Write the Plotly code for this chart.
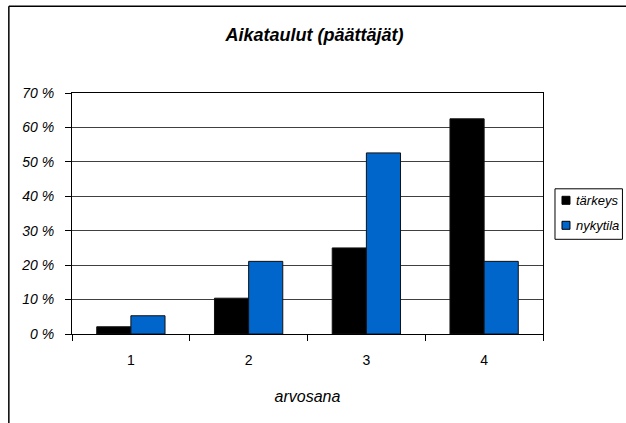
import plotly.graph_objects as go

categories = ["1", "2", "3", "4"]
tarkeys = [2.1, 10.4, 25.0, 62.5]
nykytila = [5.3, 21.1, 52.6, 21.1]
series_names = ["tärkeys", "nykytila"]
series_colors = ["#000000", "#0066CC"]
y_ticks = [0, 10, 20, 30, 40, 50, 60, 70]
y_ticktext = [f"{v} %" for v in y_ticks]

FONT = "Liberation Sans, Arial, sans-serif"

fig = go.Figure()
for name, vals, col in zip(series_names, [tarkeys, nykytila], series_colors):
    fig.add_trace(go.Bar(x=categories, y=vals, name=name, showlegend=False,
                         marker=dict(color=col, line=dict(color="#111111", width=1))))

W, H = 626, 423
L, R, T, B = 71.7, 543, 92.7, 333.7
pw, ph = R - L, B - T

def px(xp):
    return (xp - L) / pw

def py(yp):
    return (B - yp) / ph

fig.update_layout(
    width=W, height=H,
    margin=dict(l=L, r=W - R, t=T, b=H - B, pad=0, autoexpand=False),
    paper_bgcolor="white", plot_bgcolor="white",
    barmode="group", bargap=0.42, bargroupgap=0,
    font=dict(family=FONT, color="black", size=13),
    title=dict(text="<b><i>Aikataulut (päättäjät)</i></b>", x=314.5 / W, xanchor="center",
               y=1 - 35 / H, yanchor="middle", yref="container",
               font=dict(family=FONT, size=18, color="black")),
    showlegend=False,
    xaxis=dict(type="category", tickson="boundaries", ticks="outside", ticklen=6,
               tickcolor="black", showline=True, linecolor="black", linewidth=1,
               mirror=True, showgrid=False, ticklabelstandoff=13,
               tickfont=dict(family=FONT, size=14),
               title=dict(text="arvosana", standoff=24,
                          font=dict(family=FONT, size=16, style="italic"))),
    yaxis=dict(range=[0, 70], tickvals=y_ticks, ticktext=y_ticktext, ticks="outside",
               ticklen=6, tickcolor="black", showline=True, linecolor="black",
               linewidth=1, mirror=True, showgrid=True, gridcolor="#404040",
               gridwidth=1, zeroline=False, ticklabelstandoff=8,
               tickfont=dict(family=FONT, size=14, style="italic")),
)

# outer chart frame: left and top edges (right and bottom lie outside the image)
fig.add_shape(type="line", xref="paper", yref="paper",
              x0=px(8.5), x1=px(8.5), y0=py(430), y1=py(6),
              line=dict(color="black", width=1.5), layer="above")
fig.add_shape(type="line", xref="paper", yref="paper",
              x0=px(8.5), x1=px(640), y0=py(6), y1=py(6),
              line=dict(color="black", width=1.5), layer="above")

# compact legend box as in the original chart
fig.add_shape(type="rect", xref="paper", yref="paper",
              x0=px(555), x1=px(622.5), y0=py(239), y1=py(188.5),
              line=dict(color="black", width=1), fillcolor="white")
for i, (name, col) in enumerate(zip(series_names, series_colors)):
    yc = 200 + 25 * i
    fig.add_shape(type="rect", xref="paper", yref="paper",
                  x0=px(562), x1=px(570), y0=py(yc + 4), y1=py(yc - 4),
                  line=dict(color="black", width=1), fillcolor=col)
    fig.add_annotation(xref="paper", yref="paper", x=px(574), y=py(yc),
                       xanchor="left", yanchor="middle", showarrow=False,
                       text=name, font=dict(family=FONT, size=13, style="italic"))

fig.write_html("out.html", config={"displayModeBar": False},
               post_script="document.body.style.margin='0';")
